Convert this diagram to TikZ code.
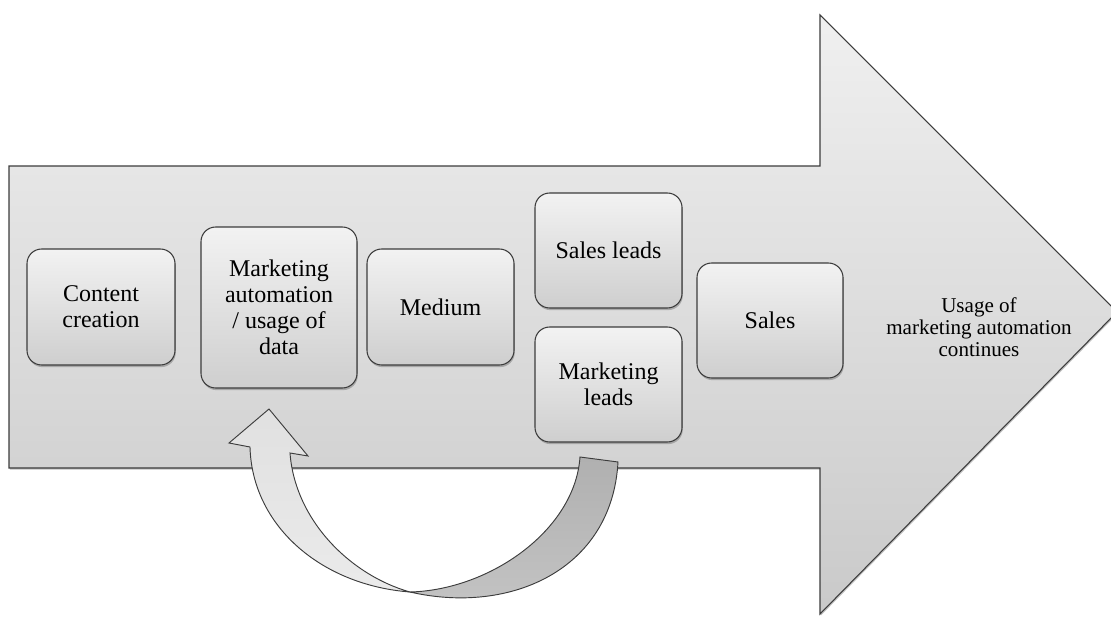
\documentclass[tikz,border=0pt]{standalone}
\usepackage{fontspec}
\setmainfont{Liberation Serif}
\usetikzlibrary{shadows}
\definecolor{edge}{HTML}{3C3C3C}
\tikzset{
  box/.style={draw=edge, line width=0.8pt, rounded corners=11pt, top color=black!5, bottom color=black!19,
    align=center, inner sep=2pt, font=\fontsize{18}{19.5}\selectfont,
    drop shadow={shadow xshift=0.6pt, shadow yshift=-1.6pt, opacity=0.35, fill=black!70}},
  bigarrow/.style={draw=edge, line width=0.8pt, top color=black!6, bottom color=black!21,
    drop shadow={shadow xshift=0.6pt, shadow yshift=-1.2pt, opacity=0.35, fill=black!70}},
  atext/.style={align=center, font=\fontsize{15.8}{16.3}\selectfont},
  lightband/.style={draw=edge, line width=0.7pt, top color=black!12, bottom color=black!8},
  darkband/.style={draw=edge, line width=0.7pt, top color=black!31, bottom color=black!23}
}
\begin{document}
\begin{tikzpicture}[x=0.75pt,y=-0.75pt]
\useasboundingbox (0,0) rectangle (1111,617);
\begin{scope}
\clip (0,0) rectangle (1111,617);
% big process arrow
\path[bigarrow] (9,166) -- (820,166) -- (820,15) -- (1117,312) -- (820,614) -- (820,468) -- (9,468) -- cycle;
\end{scope}

% boxes
\node[box, minimum width=111pt, minimum height=87pt] (cc) at (101,307) {Content\\creation};
\node[box, minimum width=117pt, minimum height=120.75pt] (ma) at (279,307.5) {Marketing\\automation\\/ usage of\\data};
\node[box, minimum width=110.25pt, minimum height=87pt] (med) at (440.5,307) {Medium};
\node[box, minimum width=110.25pt, minimum height=86.25pt] (sl) at (608.5,250.5) {Sales leads};
\node[box, minimum width=110.25pt, minimum height=86.25pt] (ml) at (608.5,384.5) {Marketing\\leads};
\node[box, minimum width=109.5pt, minimum height=86.25pt] (sa) at (770,320.5) {Sales};

\node[atext] (cont) at (979,327) {Usage of\\marketing automation\\continues};

% curved feedback arrow from Marketing leads back to Marketing automation
\coordinate (tailA) at (580,457);
\coordinate (tailB) at (618,462);
\coordinate (bot) at (410,592);
\coordinate (tip) at (269,409);
\coordinate (barbL) at (229,443);
\coordinate (barbR) at (308,456);
\coordinate (shL) at (250,447);
\coordinate (shR) at (290,453);

\path[darkband] (tailA) -- (tailB) .. controls (612,570) and (510,615) .. (bot)
   .. controls (490,590) and (575,530) .. (tailA) -- cycle;
\path[lightband] (tip) -- (barbR) -- (shR) .. controls (295,520) and (350,575) .. (bot)
   .. controls (320,585) and (252,525) .. (shL) -- (barbL) -- cycle;
\end{tikzpicture}
\end{document}
